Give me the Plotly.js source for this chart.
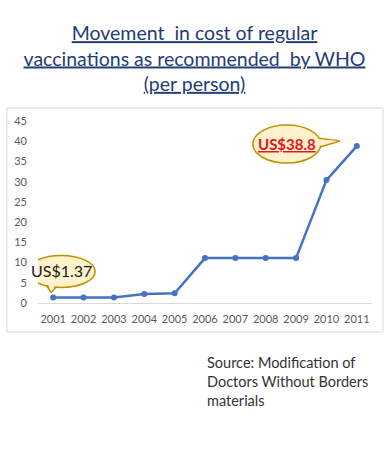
<!DOCTYPE html>
<html>
<head>
<meta charset="utf-8">
<script src="https://cdn.plot.ly/plotly-3.0.1.min.js"></script>
<style>html,body{margin:0;padding:0;background:#fff;}#chart{width:389px;height:467px;}</style>
</head>
<body>
<div id="chart"></div>
<script>
const years = [2001, 2002, 2003, 2004, 2005, 2006, 2007, 2008, 2009, 2010, 2011];
const costs = [1.37, 1.37, 1.37, 2.2, 2.4, 11.1, 11.1, 11.1, 11.1, 30.4, 38.8];
const yTicks = [0, 5, 10, 15, 20, 25, 30, 35, 40, 45];
const titleLines = ["Movement  in cost of regular", "vaccinations as recommended  by WHO", "(per person)"];
const sourceLines = ["Source: Modification of", "Doctors Without Borders", "materials"];
const firstLabel = "US$1.37";
const lastLabel = "US$38.8";

const fontFam = "Lato, 'Open Sans', sans-serif";
const first = 0, last = years.length - 1;

const trace = {
  x: years, y: costs, type: 'scatter', mode: 'lines+markers',
  line: {color: '#4472C4', width: 2.5},
  marker: {color: '#4472C4', size: 6},
  hoverinfo: 'skip', showlegend: false
};

const bubbleFill = '#FFF2CC', bubbleLine = '#BF9000';

const layout = {
  width: 389, height: 467,
  margin: {l: 38, r: 17, t: 121, b: 164},
  paper_bgcolor: '#ffffff', plot_bgcolor: '#ffffff',
  font: {family: fontFam, color: '#595959', size: 11},
  title: {
    text: titleLines.map(s => '<u>' + s + '</u>').join('<br>'),
    font: {family: fontFam, size: 19.5, color: '#1F3C74'},
    x: 0.5, xanchor: 'center', xref: 'container',
    y: 0.914, yanchor: 'middle', yref: 'container'
  },
  xaxis: {
    range: [2000.5, 2011.5], tickmode: 'array', tickvals: years,
    ticktext: years.map(String),
    showgrid: false, zeroline: false, showline: true, linecolor: '#D9D9D9', linewidth: 1,
    ticks: '', tickfont: {size: 11, color: '#595959'}, ticklabelstandoff: 6, fixedrange: true
  },
  yaxis: {
    range: [0, 45], tickmode: 'array', tickvals: yTicks,
    showgrid: false, zeroline: false, showline: false,
    ticks: '', tickfont: {size: 11, color: '#595959'}, ticklabelstandoff: 10, fixedrange: true
  },
  shapes: [
    {type: 'rect', xref: 'paper', yref: 'paper', x0: -0.093, x1: 1.033, y0: -0.159, y1: 1.071,
     line: {color: '#D9D9D9', width: 1}, fillcolor: 'rgba(0,0,0,0)', layer: 'below'},
    {type: 'path', xref: 'x', yref: 'y', xsizemode: 'pixel', ysizemode: 'pixel',
     xanchor: years[first], yanchor: costs[first],
     path: 'M -8 14 L -2 5 L 6 14 Z', fillcolor: bubbleFill, line: {color: bubbleLine, width: 1.5}},
    {type: 'circle', xref: 'x', yref: 'y', xsizemode: 'pixel', ysizemode: 'pixel',
     xanchor: years[first], yanchor: costs[first],
     x0: -26, x1: 42, y0: 10, y1: 42, fillcolor: bubbleFill, line: {color: bubbleLine, width: 1.5}},
    {type: 'path', xref: 'x', yref: 'y', xsizemode: 'pixel', ysizemode: 'pixel',
     xanchor: years[first], yanchor: costs[first],
     path: 'M -6 15 L -2 6 L 4 15 Z', fillcolor: bubbleFill, line: {width: 0}},
    {type: 'path', xref: 'x', yref: 'y', xsizemode: 'pixel', ysizemode: 'pixel',
     xanchor: years[last], yanchor: costs[last],
     path: 'M -40 8 L -17 5 L -40 -2 Z', fillcolor: bubbleFill, line: {color: bubbleLine, width: 1.5}},
    {type: 'circle', xref: 'x', yref: 'y', xsizemode: 'pixel', ysizemode: 'pixel',
     xanchor: years[last], yanchor: costs[last],
     x0: -104, x1: -36, y0: -17, y1: 21, fillcolor: bubbleFill, line: {color: bubbleLine, width: 1.5}},
    {type: 'path', xref: 'x', yref: 'y', xsizemode: 'pixel', ysizemode: 'pixel',
     xanchor: years[last], yanchor: costs[last],
     path: 'M -42 7 L -19 5 L -42 -1 Z', fillcolor: bubbleFill, line: {width: 0}}
  ],
  annotations: [
    {x: years[first], y: costs[first], xref: 'x', yref: 'y', text: firstLabel, showarrow: true,
     arrowcolor: 'rgba(0,0,0,0)', ax: 8, ay: -27, xanchor: 'center', yanchor: 'middle',
     font: {family: fontFam, size: 16, color: '#1a1a1a'}},
    {x: years[last], y: costs[last], xref: 'x', yref: 'y', text: '<b><u>' + lastLabel + '</u></b>', showarrow: true,
     arrowcolor: 'rgba(0,0,0,0)', ax: -70, ay: -2, xanchor: 'center', yanchor: 'middle',
     font: {family: fontFam, size: 15, color: '#E8141B'}},
    {x: 0.5, y: -0.27, xref: 'paper', yref: 'paper', xanchor: 'left', yanchor: 'top',
     xshift: 0, align: 'left', showarrow: false,
     text: sourceLines.join('<br>'),
     font: {family: fontFam, size: 14.5, color: '#333333'}}
  ]
};

Plotly.newPlot('chart', [trace], layout, {displayModeBar: false, staticPlot: true});
</script>
</body>
</html>
